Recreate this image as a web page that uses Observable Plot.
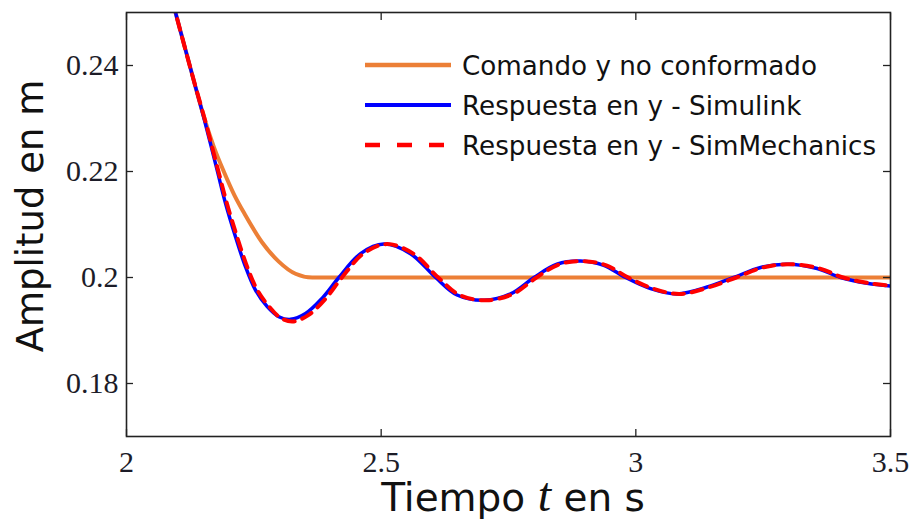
<!DOCTYPE html>
<html>
<head>
<meta charset="utf-8">
<script src="https://cdn.jsdelivr.net/npm/d3@7"></script>
<script src="https://cdn.jsdelivr.net/npm/@observablehq/plot@0.6"></script>
<style>
  html, body { margin: 0; padding: 0; background: #fff; }
  #chart svg { display: block; }
</style>
</head>
<body>
<div id="chart"></div>
<script>
// Unshaped command (orange)
const tCmd = [2.09, 2.12, 2.152, 2.172, 2.191, 2.212, 2.2337, 2.2664, 2.299, 2.3318, 2.3646, 2.42, 3.5];
const yCmd = [0.2522, 0.2415, 0.2303, 0.2245, 0.2200, 0.2155, 0.2117, 0.2066, 0.2030, 0.2007, 0.2000, 0.2000, 0.2000];

// Response in y, Simulink model (blue)
const tSim = [2.09, 2.132, 2.152, 2.1781, 2.1944, 2.214, 2.2337, 2.2533, 2.2763, 2.299, 2.322, 2.3515, 2.3843,
              2.417, 2.4595, 2.505, 2.5576, 2.607, 2.649, 2.702, 2.754, 2.80, 2.845, 2.891, 2.937, 2.98,
              3.029, 3.081, 3.140, 3.192, 3.245, 3.297, 3.356, 3.402, 3.454, 3.5];
const ySim = [0.2522, 0.2372, 0.2301, 0.2202, 0.2140, 0.2077, 0.2020, 0.1976, 0.1945, 0.1926, 0.1921, 0.1932, 0.1961,
              0.2000, 0.2045, 0.2063, 0.2045, 0.2000, 0.1967, 0.1957, 0.1969, 0.2000, 0.2025, 0.2031, 0.2023, 0.2000,
              0.1979, 0.1969, 0.1982, 0.2000, 0.2019, 0.2025, 0.2017, 0.2000, 0.1989, 0.1984];

// Response in y, SimMechanics model (red dashed)
const tMech = [2.09, 2.132, 2.153, 2.180, 2.197, 2.217, 2.237, 2.257, 2.281, 2.304, 2.327, 2.357, 2.390,
               2.423, 2.465, 2.511, 2.563, 2.612, 2.654, 2.707, 2.759, 2.805, 2.850, 2.896, 2.942, 2.985,
               3.034, 3.086, 3.145, 3.197, 3.250, 3.302, 3.361, 3.407, 3.459, 3.505];
const yMech = [0.2522, 0.2372, 0.2301, 0.2202, 0.2140, 0.2077, 0.2020, 0.1976, 0.1944, 0.1923, 0.1917, 0.1929, 0.1959,
               0.2000, 0.2045, 0.2063, 0.2045, 0.2000, 0.1967, 0.1957, 0.1969, 0.2000, 0.2025, 0.2031, 0.2023, 0.2000,
               0.1979, 0.1969, 0.1982, 0.2000, 0.2019, 0.2025, 0.2017, 0.2000, 0.1989, 0.1984];

const xTicks = [2, 2.5, 3, 3.5];
const xTickLabels = ["2", "2.5", "3", "3.5"];
const yTicks = [0.18, 0.2, 0.22, 0.24];
const yTickLabels = ["0.18", "0.2", "0.22", "0.24"];

const seriesNames = ["Comando y no conformado", "Respuesta en y - Simulink", "Respuesta en y - SimMechanics"];
const seriesColors = ["#EC7F36", "#0000FF", "#FF0000"];

const toRows = (ts, ys) => ts.map((t, i) => ({t, y: ys[i]}));
const cmd = toRows(tCmd, yCmd);
const sim = toRows(tSim, ySim);
const mech = toRows(tMech, yMech);

const xFmt = d => xTickLabels[xTicks.indexOf(d)];
const yFmt = d => yTickLabels[yTicks.findIndex(v => Math.abs(v - d) < 1e-9)];

const serif = "Liberation Serif, Tinos, Times New Roman, Times, DejaVu Serif, Noto Serif, serif";
const sans = "DejaVu Sans, Verdana, sans-serif";

const svg = Plot.plot({
  width: 912,
  height: 521,
  marginLeft: 126,
  marginRight: 22,
  marginTop: 12,
  marginBottom: 85,
  style: {background: "#fff", color: "#222"},
  x: {domain: [2, 3.5]},
  y: {domain: [0.17, 0.25]},
  marks: [
    Plot.line(cmd, {x: "t", y: "y", stroke: seriesColors[0], strokeWidth: 4, curve: "monotone-x", clip: true}),
    Plot.line(sim, {x: "t", y: "y", stroke: seriesColors[1], strokeWidth: 3.5, curve: "catmull-rom", clip: true}),
    Plot.line(mech, {x: "t", y: "y", stroke: seriesColors[2], strokeWidth: 4, strokeDasharray: "11,8", curve: "catmull-rom", clip: true}),
    Plot.frame({stroke: "#222", strokeWidth: 1.6}),
    Plot.axisY({ticks: yTicks, tickSize: -7, tickPadding: 15, tickFormat: yFmt, label: null, strokeWidth: 1.3}),
    Plot.axisY({anchor: "right", ticks: yTicks, tickSize: -8, tickFormat: () => "", label: null, strokeWidth: 1.3}),
    Plot.axisX({ticks: xTicks, tickSize: -7, tickPadding: 21, tickFormat: xFmt, label: null, strokeWidth: 1.3}),
    Plot.axisX({anchor: "top", ticks: xTicks, tickSize: -7, tickFormat: () => "", label: null, strokeWidth: 1.3})
  ]
});

const root = d3.select(svg);

// Tick labels in a serif face
root.selectAll('[aria-label$="tick label"]')
  .attr("font-family", null)
  .style("font-family", serif)
  .style("font-size", "30px")
  .style("font-variant", "normal");
root.selectAll('[aria-label$="tick label"] text')
  .style("font-family", serif)
  .style("font-size", "30px")
  .attr("fill", "#1c1c28");

// Legend, top right inside the axes box
const legend = root.append("g")
  .attr("font-family", sans)
  .attr("font-size", 26.2)
  .attr("text-anchor", "start");
seriesNames.forEach((name, i) => {
  const y = 65 + i * 40;
  legend.append("line")
    .attr("x1", 365).attr("x2", 451).attr("y1", y).attr("y2", y)
    .attr("stroke", seriesColors[i])
    .attr("stroke-width", i === 1 ? 4 : 4.5)
    .attr("stroke-dasharray", i === 2 ? "15,17" : null);
  legend.append("text")
    .attr("x", 462).attr("y", y + 10)
    .attr("fill", "#111")
    .text(name);
});

// Axis titles
root.append("text")
  .attr("text-anchor", "middle")
  .attr("transform", "translate(43,216) rotate(-90)")
  .attr("font-family", sans)
  .attr("font-size", 37)
  .attr("fill", "#111")
  .text("Amplitud en m");

const xt = root.append("text")
  .attr("x", 513).attr("y", 511)
  .attr("text-anchor", "middle")
  .attr("font-family", sans)
  .attr("font-size", 39)
  .attr("fill", "#111");
xt.append("tspan").text("Tiempo ");
xt.append("tspan").style("font-family", serif)
  .style("font-style", "italic").style("font-size", "48px").text("t");
xt.append("tspan").text(" en s");

document.getElementById("chart").appendChild(svg);
</script>
</body>
</html>
